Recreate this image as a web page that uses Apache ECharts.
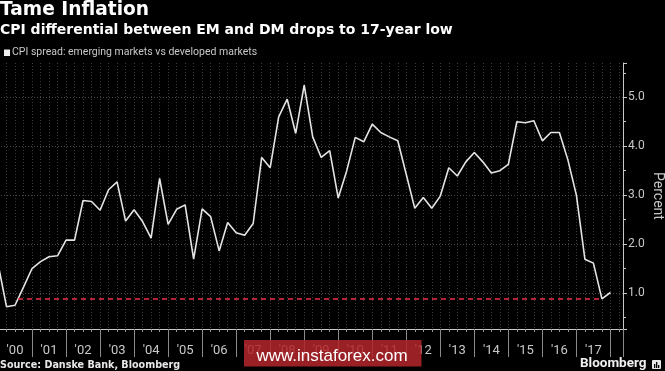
<!DOCTYPE html>
<html><head><meta charset="utf-8">
<script src="https://cdn.jsdelivr.net/npm/echarts@6/dist/echarts.min.js"></script>
<style>html,body{margin:0;padding:0;background:#000;}#c{width:665px;height:371px;}</style>
</head><body><div id="c"></div>
<script>
// Quarterly CPI spread (EM minus DM), percent, starting 2000 Q1
const startYear = 2000;
const spread = [
  1.60, 0.72, 0.75, 1.12,  1.50, 1.64, 1.74, 1.76,  2.08, 2.08, 2.89, 2.87,
  2.69, 3.11, 3.27, 2.47,  2.70, 2.46, 2.12, 3.34,  2.40, 2.71, 2.80, 1.69,
  2.72, 2.56, 1.86, 2.44,  2.23, 2.18, 2.42, 3.77,  3.56, 4.60, 4.96, 4.26,
  5.25, 4.19, 3.77, 3.91,  2.94, 3.50, 4.18, 4.09,  4.45, 4.28, 4.19, 4.11,
  3.42, 2.73, 2.95, 2.73,  2.98, 3.56, 3.39, 3.68,  3.87, 3.68, 3.45, 3.50,
  3.63, 4.50, 4.48, 4.52,  4.11, 4.28, 4.28, 3.72,  3.00, 1.69, 1.61, 0.88,
  1.01
];
const yearLabels = ["'00","'01","'02","'03","'04","'05","'06","'07","'08","'09",
                    "'10","'11","'12","'13","'14","'15","'16","'17"];
const yTicks = [1, 2, 3, 4, 5];
const xRange = [2000, 2018.37];
const yRange = [0.264, 5.70];

// quarter positions (category sequence) in years
const quarters = spread.map((_, i) => startYear + i / 4);
const seriesData = spread.map((v, i) => [quarters[i], v]);

// 17-year-low reference: level of the recent trough, from where the 2000 series first crossed it
let lowIdx = spread.length - 1;
for (let i = spread.length - 12; i < spread.length; i++) if (spread[i] < spread[lowIdx]) lowIdx = i;
const lowLevel = spread[lowIdx];
let lowStart = quarters[0];
for (let i = 1; i < spread.length; i++) {
  if (spread[i - 1] < lowLevel && spread[i] >= lowLevel) {
    const f = (lowLevel - spread[i - 1]) / (spread[i] - spread[i - 1]);
    lowStart = quarters[i - 1] + f * 0.25; break;
  }
}

const chart = echarts.init(document.getElementById('c'), null, {renderer: 'canvas'});
const grey = '#c8c8c8';
chart.setOption({
  backgroundColor: '#000',
  animation: false,
  grid: {left: -2, right: 42, top: 63, bottom: 42, containLabel: false, outerBoundsMode: 'none'},
  xAxis: [{
    type: 'value', min: xRange[0], max: xRange[1], interval: 0.25,
    position: 'bottom',
    axisLine: {show: true, onZero: false, lineStyle: {color: grey, width: 1}},
    axisTick: {show: true, length: 3, lineStyle: {color: '#999'}},
    splitLine: {show: true, showMinLine: false, showMaxLine: false,
      lineStyle: {color: '#3d3d3d', type: [1, 2], width: 1}},
    axisLabel: {
      show: true, margin: 15, color: grey, fontSize: 13, fontFamily: 'Roboto',
      formatter: v => {
        const y = Math.floor(v + 1e-9), f = v - y;
        if (Math.abs(f - 0.5) < 1e-6) { const l = yearLabels[y - startYear]; return l || ''; }
        return '';
      }
    }
  }, {
    type: 'value', min: xRange[0], max: xRange[1], interval: 1,
    position: 'bottom',
    axisLine: {show: false, onZero: false},
    axisTick: {show: true, length: 28, lineStyle: {color: '#8a8a8a', width: 1}},
    splitLine: {show: false},
    axisLabel: {show: false}
  }],
  yAxis: {
    type: 'value', position: 'right', min: yRange[0], max: yRange[1],
    minInterval: 1, maxInterval: 1, splitNumber: 5,
    axisLine: {show: true, lineStyle: {color: grey, width: 1}},
    axisTick: {show: true, length: 4, lineStyle: {color: grey}},
    minorTick: {show: true, splitNumber: 2, length: 3, lineStyle: {color: grey}},
    splitLine: {show: true, showMinLine: false, showMaxLine: false,
      lineStyle: {color: '#4a4a4a', type: [1, 2], width: 1}},
    axisLabel: {
      show: true, margin: 5, color: grey, fontSize: 12, fontFamily: 'Roboto',
      showMinLabel: false, showMaxLabel: false,
      formatter: v => yTicks.includes(Math.round(v * 1000) / 1000) ? v.toFixed(1) : ''
    },
    name: 'Percent', nameLocation: 'middle', nameRotate: -90, nameGap: 27,
    nameMoveOverlap: false,
    nameTextStyle: {color: grey, fontSize: 14, fontFamily: 'Roboto'}
  },
  series: [{
    type: 'line', xAxisIndex: 0, data: seriesData, showSymbol: false, symbol: 'none',
    clip: true,
    lineStyle: {color: '#e4e4e4', width: 1.6},
    markLine: {
      silent: true, symbol: 'none', label: {show: false},
      lineStyle: {color: '#f0304c', type: [5, 4], width: 1.6},
      data: [[{coord: [lowStart, lowLevel]}, {coord: [quarters[lowIdx], lowLevel]}]]
    }
  }],
  graphic: [
    {type: 'text', left: 0, top: 1, style: {text: 'Tame Inflation', fill: '#fff',
      font: 'bold 18.6px "DejaVu Sans"'}},
    {type: 'text', left: 0, top: 23, style: {text: 'CPI differential between EM and DM drops to 17-year low',
      fill: '#fff', font: 'bold 14px "DejaVu Sans"'}},
    {type: 'rect', shape: {x: 4, y: 49.5, width: 6, height: 6.5}, style: {fill: '#eee'}},
    {type: 'text', left: 12, top: 47, style: {text: 'CPI spread: emerging markets vs developed markets',
      fill: grey, font: '10.5px Roboto'}},
    {type: 'text', left: 0, top: 360, style: {text: 'Source: Danske Bank, Bloomberg',
      fill: '#e8e8e8', font: 'bold 9.6px "DejaVu Sans"'}},
    {type: 'text', left: 580, top: 357, style: {text: 'Bloomberg', fill: '#f0f0f0',
      font: 'bold 13.5px Roboto'}},
    {type: 'group', left: 652, top: 360, children: [
      {type: 'rect', shape: {x: 0, y: 0, width: 9, height: 9, r: 1}, style: {fill: '#e8e8e8'}},
      {type: 'rect', shape: {x: 2, y: 4, width: 1.3, height: 4}, style: {fill: '#000'}},
      {type: 'rect', shape: {x: 4, y: 2, width: 1.3, height: 6}, style: {fill: '#000'}},
      {type: 'rect', shape: {x: 6, y: 5, width: 1.3, height: 3}, style: {fill: '#000'}}
    ]},
    {type: 'rect', shape: {x: 244, y: 340, width: 177.5, height: 26.5},
      style: {fill: 'rgba(178,38,44,0.86)'}, z: 100},
    {type: 'text', x: 332, y: 356, z: 101, style: {text: 'www.instaforex.com', fill: '#fff',
      font: '17px "Liberation Sans"', textAlign: 'center', textVerticalAlign: 'middle'}}
  ]
});
</script></body></html>
